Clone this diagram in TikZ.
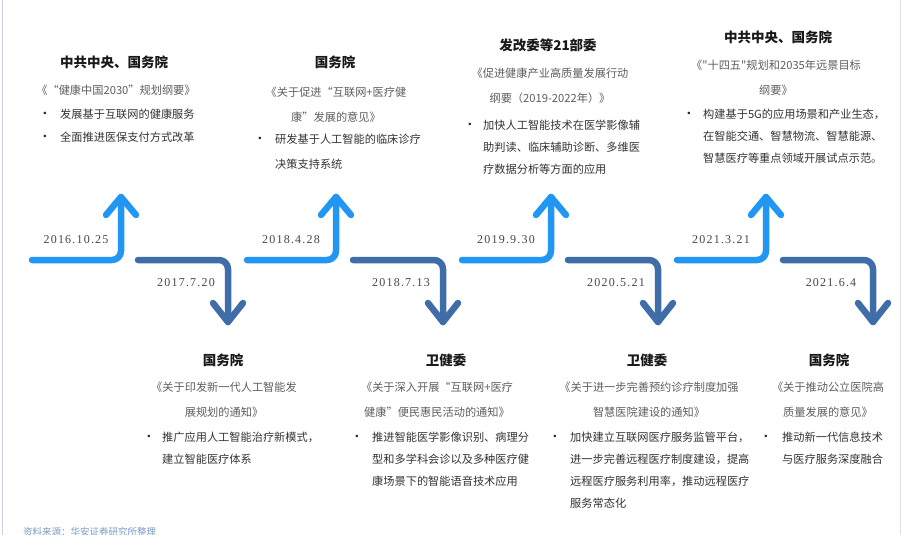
\documentclass[tikz,border=0pt]{standalone}
\usepackage{fontspec}
\usepackage{xcolor}
\newfontfamily\cjk{Noto Sans CJK SC}
\newfontfamily\datefont[LetterSpace=10]{Liberation Serif}
\usetikzlibrary{calc}

\definecolor{upblue}{HTML}{2196F3}
\definecolor{downblue}{HTML}{3F6DA8}
\definecolor{docgray}{HTML}{5E5E5E}
\definecolor{srcblue}{HTML}{7C99C6}
\definecolor{edgegray}{HTML}{C9D0DC}

\tikzset{
	uparrow/.style={line width=6.5pt, line cap=round, line join=round, rounded corners=9pt, draw=upblue},
	downarrow/.style={line width=6.5pt, line cap=round, line join=round, rounded corners=9pt, draw=downblue},
	datelabel/.style={font=\datefont\fontsize{12}{12}\selectfont, text=black!72, inner sep=0pt},
	orgtitle/.style={font=\cjk\bfseries\fontsize{13.5}{16}\selectfont, text=black!90, inner sep=0pt},
	doctitle/.style={font=\cjk\fontsize{11.2}{25}\selectfont, text=docgray, align=center, inner sep=0pt, anchor=north},
	point/.style={font=\cjk\fontsize{11.2}{22}\selectfont, text=black!80, align=left, inner sep=0pt, anchor=north west},
	dot/.style={font=\fontsize{9}{9}\selectfont, text=black!85, inner sep=0pt},
	source/.style={font=\cjk\fontsize{9.5}{10}\selectfont, text=srcblue, inner sep=0pt, anchor=west}
}

\begin{document}
\begin{tikzpicture}[x=1pt, y=-1pt]
	%frame
	\useasboundingbox (0,0) rectangle (905,535);
	\fill[white] (0,0) rectangle (905,535);
	\draw[edgegray, line width=1.5pt] (2.5,0) -- (2.5,535);
	\draw[black!12, line width=1pt] (900.5,0) -- (900.5,535);
	
	%timeline, one rising and one falling arrow per step
	\foreach \x/\up/\down [count=\i] in {32/2016.10.25/2017.7.20, 247/2018.4.28/2018.7.13, 462/2019.9.30/2020.5.21, 677/2021.3.21/2021.6.4}{
		\coordinate (u\i) at (\x,260);
		\coordinate (d\i) at ({\x+106},260);
		\draw[uparrow] (u\i) -- ++(89,0) -- ++(0,-63);
		\draw[uparrow, sharp corners] ($(u\i)+(74,-45)$) -- ($(u\i)+(89,-63)$) -- ($(u\i)+(104,-45)$);
		\draw[downarrow] (d\i) -- ++(90,0) -- ++(0,62);
		\draw[downarrow, sharp corners] ($(d\i)+(75,43)$) -- ($(d\i)+(90,62)$) -- ($(d\i)+(105,43)$);
		\node[datelabel] (du\i) at ({\x+44},240) {\up};
		\node[datelabel] (dd\i) at ({\x+154},283) {\down};
	}
	
	%2016
	\node[orgtitle] (org1) at (114,62) {中共中央、国务院};
	\node[doctitle] (doc1) at (116,85) {《“健康中国2030”规划纲要》};
	\node[dot] (dot1) at (45,114) {•};
	\node[point] (pt1) at (60,109) {发展基于互联网的健康服务};
	\node[dot] (dot1b) at (45,137) {•};
	\node[point] (pt1b) at (60,132) {全面推进医保支付方式改革};
	
	%2018 april
	\node[orgtitle] (org2) at (335,62) {国务院};
	\node[doctitle] (doc2) at (336,87) {《关于促进“互联网+医疗健\\康”发展的意见》};
	\node[dot] (dot2) at (260,139) {•};
	\node[point, font=\cjk\fontsize{11.2}{25}\selectfont] (pt2) at (275,134) {研发基于人工智能的临床诊疗\\决策支持系统};
	
	%2019
	\node[orgtitle] (org3) at (548,45) {发改委等21部委};
	\node[doctitle] (doc3) at (550,68) {《促进健康产业高质量发展行动\\纲要（2019-2022年）》};
	\node[dot] (dot3) at (470,125) {•};
	\node[point] (pt3) at (483,120) {加快人工智能技术在医学影像辅\\助判读、临床辅助诊断、多维医\\疗数据分析等方面的应用};
	
	%2021 march
	\node[orgtitle] (org4) at (778,37) {中共中央、国务院};
	\node[doctitle] (doc4) at (776,60) {《"十四五"规划和2035年远景目标\\纲要》};
	\node[dot] (dot4) at (689,114) {•};
	\node[point] (pt4) at (703,109) {构建基于5G的应用场景和产业生态，\\在智能交通、智慧物流、智慧能源、\\智慧医疗等重点领域开展试点示范。};
	
	%2017
	\node[orgtitle] (org5) at (223,360) {国务院};
	\node[doctitle] (doc5) at (224,382) {《关于印发新一代人工智能发\\展规划的通知》};
	\node[dot] (dot5) at (149,437) {•};
	\node[point] (pt5) at (162,432) {推广应用人工智能治疗新模式，\\建立智能医疗体系};
	
	%2018 july
	\node[orgtitle] (org6) at (446,360) {卫健委};
	\node[doctitle] (doc6) at (437,382) {《关于深入开展“互联网+医疗\\健康”便民惠民活动的通知》};
	\node[dot] (dot6) at (357,437) {•};
	\node[point] (pt6) at (372,432) {推进智能医学影像识别、病理分\\型和多学科会诊以及多种医疗健\\康场景下的智能语音技术应用};
	
	%2020
	\node[orgtitle] (org7) at (647,360) {卫健委};
	\node[doctitle] (doc7) at (649,382) {《关于进一步完善预约诊疗制度加强\\智慧医院建设的通知》};
	\node[dot] (dot7) at (555,437) {•};
	\node[point] (pt7) at (570,432) {加快建立互联网医疗服务监管平台，\\进一步完善远程医疗制度建设，提高\\远程医疗服务利用率，推动远程医疗\\服务常态化};
	
	%2021 june
	\node[orgtitle] (org8) at (829,360) {国务院};
	\node[doctitle] (doc8) at (828,382) {《关于推动公立医院高\\质量发展的意见》};
	\node[dot] (dot8) at (766,437) {•};
	\node[point] (pt8) at (782,432) {推动新一代信息技术\\与医疗服务深度融合};
	
	%source
	\node[source] (src) at (23,532) {资料来源：华安证券研究所整理};
\end{tikzpicture}
\end{document}
